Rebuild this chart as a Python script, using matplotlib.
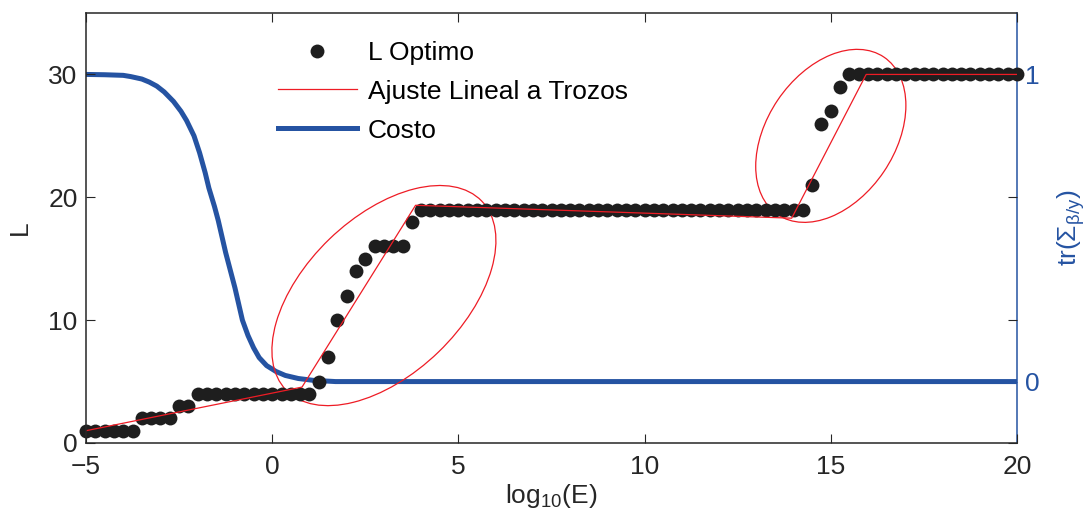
import numpy as np
import matplotlib
matplotlib.use('Agg')
import matplotlib.pyplot as plt
from matplotlib.patches import Ellipse
from matplotlib.transforms import ScaledTranslation

plt.rcParams['font.family'] = ['Liberation Sans', 'DejaVu Sans']
plt.rcParams['mathtext.fontset'] = 'custom'
plt.rcParams['mathtext.rm'] = 'Liberation Sans'
plt.rcParams['mathtext.it'] = 'Liberation Sans:italic'

# L optimo: run-length levels over the log10(E) grid
log_e = np.linspace(-5, 20, 101)
l_levels = [1, 2, 3, 4, 5, 7, 10, 12, 14, 15, 16, 18, 19, 21, 26, 27, 29, 30]
l_counts = [6, 4, 2, 13, 1, 1, 1, 1, 1, 1, 4, 1, 42, 1, 1, 1, 1, 19]
l_opt = np.repeat(l_levels, l_counts)

# piecewise linear fit
fit_x = [-5, 0.8, 3.85, 13.95, 15.95, 20]
fit_y = [1.0, 4.55, 19.35, 18.3, 30, 30]

# cost curve (right axis)
cost_x = [-5, -4.5, -4.0, -3.8, -3.5, -3.3, -3.1, -2.9, -2.65, -2.45, -2.3,
          -2.1, -1.95, -1.8, -1.7, -1.55, -1.45, -1.25, -1.0, -0.8, -0.65,
          -0.5, -0.35, -0.15, 0.1, 0.35, 0.7, 1.1, 1.7, 20]
cost_y = [1.0, 0.999, 0.997, 0.993, 0.985, 0.975, 0.962, 0.943, 0.912, 0.88,
          0.85, 0.8, 0.745, 0.68, 0.63, 0.57, 0.525, 0.42, 0.305, 0.2, 0.15,
          0.11, 0.078, 0.052, 0.033, 0.02, 0.01, 0.004, 0.0, 0.0]

dark = '#262626'
blue = '#2553a2'
red = '#ee1c25'
fs = 19

fig = plt.figure(figsize=(10.89, 5.20), dpi=100)
ax = fig.add_axes([86 / 1089, 77 / 520, 931 / 1089, 430 / 520])
ax2 = ax.twinx()
ax.set_zorder(ax2.get_zorder() + 1)
ax.patch.set_visible(False)

h_cost, = ax2.plot(cost_x, cost_y, color=blue, lw=3.6, label='Costo')
h_dots, = ax.plot(log_e, l_opt, 'o', color='#1e1e1e', ms=10, mec='none',
                  label='L Optimo', clip_on=False)
h_fit, = ax.plot(fit_x, fit_y, color=red, lw=0.9, label='Ajuste Lineal a Trozos')

# ellipses sized in pixels, centred in data coords
for cx, cy, w, h, ang in [(3.0, 12.0, 2.72, 1.57, 44), (15.0, 25.0, 1.90, 1.28, 56)]:
    e = Ellipse((0, 0), w, h, angle=ang, fill=False, ec=red, lw=0.9,
                transform=fig.dpi_scale_trans + ScaledTranslation(cx, cy, ax.transData))
    ax.add_patch(e)

ax.set_xlim(-5, 20)
ax.set_ylim(0, 35)
ax2.set_ylim(-0.2, 1.2)
ax.set_xticks([-5, 0, 5, 10, 15, 20])
ax.set_xticklabels(['\u22125', '0', '5', '10', '15', '20'])
ax.set_yticks([0, 10, 20, 30])
ax2.set_yticks([0, 1])

ax.tick_params(direction='in', length=6.5, width=0.8, labelsize=fs, colors=dark,
               top=True, right=True, pad=6)
ax.tick_params(axis='x', pad=9)
ax2.tick_params(direction='in', length=6.5, width=0.8, labelsize=fs, colors=blue, pad=6)
for s in ['left', 'bottom', 'top']:
    ax.spines[s].set_color(dark)
    ax.spines[s].set_linewidth(1.1)
ax.spines['right'].set_visible(False)
for s in ['left', 'bottom', 'top']:
    ax2.spines[s].set_visible(False)
ax2.spines['right'].set_color(blue)
ax2.spines['right'].set_linewidth(1.1)

ax.set_xlabel(r'log$_{\mathregular{10}}$(E)', fontsize=fs, color=dark, labelpad=2)
ax.set_ylabel('L', fontsize=fs, color=dark, labelpad=12)
ax2.set_ylabel(r'tr($\mathregular{\Sigma_{\beta/y}}$)', fontsize=fs, color=blue, labelpad=11)

ax.legend(handles=[h_dots, h_fit, h_cost], loc='upper left',
          bbox_to_anchor=(0.206, 0.935), frameon=False, fontsize=19,
          handlelength=3.0, handletextpad=0.4, labelspacing=0.56,
          borderpad=0, borderaxespad=0)

fig.savefig('out.png', dpi=100)
plt.close(fig)
